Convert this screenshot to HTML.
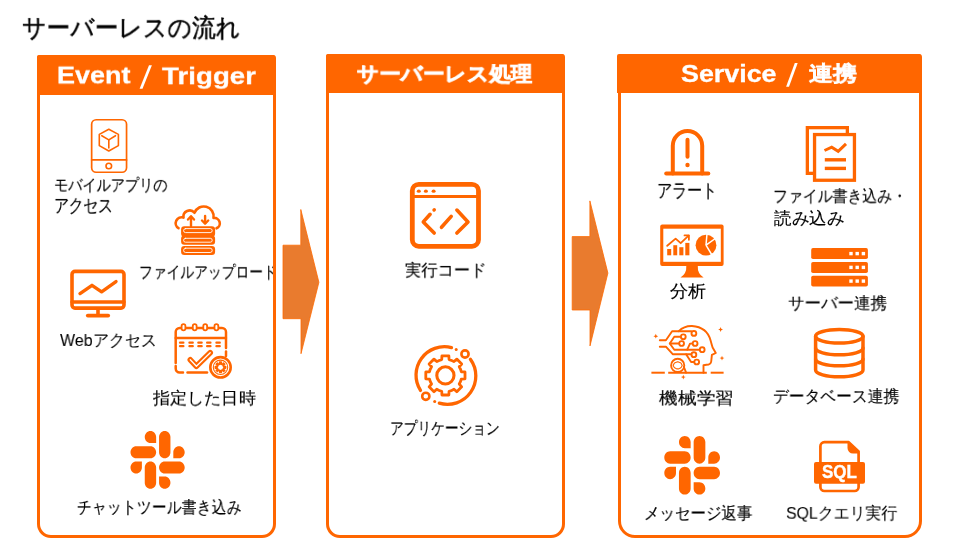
<!DOCTYPE html>
<html><head><meta charset="utf-8">
<style>
html,body{margin:0;padding:0;background:#fff;}
body{width:955px;height:553px;position:relative;overflow:hidden;font-family:"Liberation Sans",sans-serif;color:#111;}
.box{position:absolute;z-index:5;border:3px solid #FF6600;box-sizing:border-box;border-radius:3px 3px 14px 14px;}
.hdr{position:absolute;background:#FF6600;border-radius:2px 2px 0 0;}
.t{position:absolute;white-space:nowrap;line-height:1;transform-origin:0 0;-webkit-text-stroke:0.15px #000;color:#000;will-change:transform;}
#title{-webkit-text-stroke:0.5px #000;}
#h2{-webkit-text-stroke:0.8px #fff;}
#h3c{-webkit-text-stroke:0.5px #fff;}
#l4,#l17{-webkit-text-stroke:0.05px #000;}
#h1a,#h1c,#h3a{-webkit-text-stroke:0.3px #fff;}
.h{position:absolute;white-space:nowrap;line-height:1;color:#fff;font-weight:bold;transform-origin:0 0;will-change:transform;}
svg{position:absolute;overflow:visible;}
</style></head><body>

<div class="box" style="left:37px;top:55px;width:239px;height:483px;"></div>
<div class="hdr" style="left:37px;top:55px;width:238px;height:40px;"></div>
<div class="box" style="left:326px;top:54px;width:239px;height:484px;"></div>
<div class="hdr" style="left:326px;top:54px;width:238px;height:38.5px;"></div>
<div class="box" style="left:618px;top:54px;width:304px;height:484px;border-radius:3px 3px 17px 17px;"></div>
<div class="hdr" style="left:617px;top:54px;width:304px;height:38.6px;"></div>


<svg style="left:0;top:0" width="955" height="553">
<polygon points="283,245.2 300.8,245.2 300.8,209.5 318.9,282.3 301,353.7 301,318.7 283,318.7" fill="#E97B2E" stroke="#FF6A00" stroke-width="0.8"/>
<polygon points="572.2,236.6 589.9,236.6 589.9,200.9 607.9,273.1 590,345.9 590,310 572.2,310" fill="#E97B2E" stroke="#FF6A00" stroke-width="0.8"/>
</svg>

<!--ICONS-->
<svg style="left:0;top:0;z-index:3" width="955" height="553" viewBox="0 0 955 553">
<defs>
<path id="slk" d="M26.4 78.2c0 7.1-5.8 12.9-12.9 12.9S.6 85.3.6 78.2c0-7.1 5.8-12.9 12.9-12.9h12.9v12.9zm6.5 0c0-7.1 5.8-12.9 12.9-12.9s12.9 5.8 12.9 12.9v32.3c0 7.1-5.8 12.9-12.9 12.9s-12.9-5.8-12.9-12.9V78.2zM45.8 26.4c-7.1 0-12.9-5.8-12.9-12.9S38.7.6 45.8.6s12.9 5.8 12.9 12.9v12.9H45.8zm0 6.5c7.1 0 12.9 5.8 12.9 12.9s-5.8 12.9-12.9 12.9H13.5C6.4 58.7.6 52.9.6 45.8s5.8-12.9 12.9-12.9h32.3zM97.6 45.8c0-7.1 5.8-12.9 12.9-12.9s12.9 5.8 12.9 12.9-5.8 12.9-12.9 12.9H97.6V45.8zm-6.5 0c0 7.1-5.8 12.9-12.9 12.9s-12.9-5.8-12.9-12.9V13.5C65.3 6.4 71.1.6 78.2.6s12.9 5.8 12.9 12.9v32.3zM78.2 97.6c7.1 0 12.9 5.8 12.9 12.9s-5.8 12.9-12.9 12.9-12.9-5.8-12.9-12.9V97.6h12.9zm0-6.5c-7.1 0-12.9-5.8-12.9-12.9s5.8-12.9 12.9-12.9h32.3c7.1 0 12.9 5.8 12.9 12.9s-5.8 12.9-12.9 12.9H78.2z"/>
</defs>
<g fill="none" stroke="#FF6600" stroke-linecap="round" stroke-linejoin="round">
<!-- phone -->
<rect x="91.65" y="119.75" width="34.9" height="52.5" rx="4.5" stroke-width="1.7"/>
<line x1="91.65" y1="159.9" x2="126.55" y2="159.9" stroke-width="1.7"/>
<circle cx="108.8" cy="166" r="2.8" stroke-width="1.6"/>
<polygon points="108.8,129.3 118.4,134.4 118.4,145.6 108.8,151 99.3,145.6 99.3,134.4" stroke-width="1.6"/>
<polyline points="101.8,135.7 108.8,139.9 115.5,135.7" stroke-width="1.6"/>
<line x1="108.8" y1="139.9" x2="108.8" y2="148" stroke-width="1.6"/>

<!-- cloud -->
<path d="M178.5,228.2 A5.9,5.9 0 0 1 183.5,217.6 A6.2,6.2 0 0 1 194.5,212.8 A9.9,9.9 0 0 1 213.5,218 A5.4,5.4 0 0 1 216.5,228.3" stroke-width="2.6"/>
<line x1="191" y1="217" x2="191" y2="226" stroke-width="2.4"/>
<polyline points="188,219.5 191,216.2 194,219.5" stroke-width="2.4"/>
<line x1="205.1" y1="216" x2="205.1" y2="223" stroke-width="2.4"/>
<polyline points="202,220.5 205.1,223.6 208.2,220.5" stroke-width="2.4"/>


<g fill="#FF6600" stroke="none">
<rect x="181.1" y="226.2" width="34" height="10.5" rx="3.2"/>
<rect x="181.1" y="235.5" width="34" height="9.3" rx="3.2"/>
<rect x="181.1" y="246.1" width="34" height="8.8" rx="3.2"/>
</g>
<g stroke="#fff" stroke-width="0.9">
<rect x="183.6" y="228.6" width="28.6" height="4" rx="2"/>
<rect x="183.6" y="238.3" width="28.6" height="3.9" rx="1.9"/>
<rect x="183.6" y="248.2" width="28.6" height="4.3" rx="2.1"/>
</g>
<circle cx="209.3" cy="230.6" r="1.2" fill="#FF6600" stroke="none"/>
<!-- monitor -->
<rect x="72" y="271.4" width="52" height="36.7" rx="3" stroke-width="3.6"/>
<line x1="72" y1="302" x2="124" y2="302" stroke-width="3.4"/>
<line x1="98" y1="309" x2="98" y2="314" stroke-width="3.6" stroke-linecap="butt"/>
<line x1="87.8" y1="315.6" x2="108.2" y2="315.6" stroke-width="3.8"/>
<polyline points="80,293.6 92,285.3 101.6,291.8 116,281.6" stroke-width="3.4"/>

<!-- calendar -->
<path d="M175.7,363 V332 a4,4 0 0 1 4,-4 H222 a4,4 0 0 1 4,4 V348" stroke-width="2.5"/>
<path d="M175.7,366 V368.5 a4,4 0 0 0 4,4 H183" stroke-width="2.5"/>
<path d="M187.5,372.5 H207" stroke-width="2.5"/>
<line x1="226" y1="351.5" x2="226" y2="356" stroke-width="2.5"/>
<line x1="175.7" y1="338" x2="226" y2="338" stroke-width="2.4"/>
<g stroke-width="2.2">
<line x1="180" y1="342.7" x2="183.4" y2="342.7"/><line x1="189.4" y1="342.7" x2="192.8" y2="342.7"/><line x1="198.3" y1="342.7" x2="201.7" y2="342.7"/><line x1="207.1" y1="342.7" x2="210.5" y2="342.7"/><line x1="216.4" y1="342.7" x2="219.8" y2="342.7"/>
<line x1="180" y1="346.2" x2="183.4" y2="346.2"/><line x1="189.4" y1="346.2" x2="192.8" y2="346.2"/><line x1="198.3" y1="346.2" x2="201.7" y2="346.2"/><line x1="207.1" y1="346.2" x2="210.5" y2="346.2"/><line x1="216.4" y1="346.2" x2="219.8" y2="346.2"/>
</g>
<g stroke-width="1.8" fill="#fff">
<rect x="181.6" y="324.2" width="3.8" height="6.2" rx="1.9"/>
<rect x="192.8" y="324.2" width="3.8" height="6.2" rx="1.9"/>
<rect x="203.3" y="324.2" width="3.8" height="6.2" rx="1.9"/>
<rect x="214.5" y="324.2" width="3.8" height="6.2" rx="1.9"/>
</g>
<polyline points="190.3,359.8 196.4,366.3 210.2,352.8" stroke-width="5.6"/>
<polyline points="190.3,359.8 196.4,366.3 210.2,352.8" stroke="#fff" stroke-width="1.3"/>
<circle cx="220.5" cy="367.3" r="10.2" fill="#fff" stroke-width="2.6"/>
<circle cx="220.5" cy="367.3" r="7.2" stroke-width="1.1"/>
<path d="M219.78,364.18 L219.69,362.16 L221.31,362.16 L221.22,364.18 L222.20,364.59 L223.56,363.09 L224.71,364.24 L223.21,365.60 L223.62,366.58 L225.64,366.49 L225.64,368.11 L223.62,368.02 L223.21,369.00 L224.71,370.36 L223.56,371.51 L222.20,370.01 L221.22,370.42 L221.31,372.44 L219.69,372.44 L219.78,370.42 L218.80,370.01 L217.44,371.51 L216.29,370.36 L217.79,369.00 L217.38,368.02 L215.36,368.11 L215.36,366.49 L217.38,366.58 L217.79,365.60 L216.29,364.24 L217.44,363.09 L218.80,364.59 Z" stroke-width="1.6"/>

<!-- code window -->
<rect x="412.3" y="184.3" width="66.2" height="62" rx="6.5" stroke-width="4.8"/>
<line x1="412.3" y1="196.5" x2="478.5" y2="196.5" stroke-width="3"/>
<g fill="#FF6600" stroke="none"><ellipse cx="418.8" cy="191.2" rx="2" ry="1.6"/><ellipse cx="425.9" cy="191.2" rx="2" ry="1.6"/><ellipse cx="433.6" cy="191.2" rx="2" ry="1.6"/></g>
<polyline points="430.1,214.3 423.3,221.9 434.2,233" stroke-width="3.6"/>
<line x1="434" y1="210" x2="434.3" y2="209.7" stroke-width="3.4"/>
<polyline points="456.9,210.1 468,221.9 456.9,233" stroke-width="3.6"/>
<line x1="441.5" y1="227.3" x2="451.2" y2="216.4" stroke-width="3.6"/>

<!-- gear orbit -->
<path d="M451.5,347.6 A28.4,28.4 0 0 0 420.5,390.4" stroke-width="3.3"/>
<path d="M470.4,359.3 A28.4,28.4 0 0 1 439.3,403.2" stroke-width="3.3"/>
<circle cx="456.2" cy="349.6" r="1.5" fill="#FF6600" stroke="none"/>
<circle cx="434.7" cy="401.6" r="1.5" fill="#FF6600" stroke="none"/>
<circle cx="465" cy="354" r="3.6" stroke-width="2.6"/>
<circle cx="425.8" cy="396.3" r="3.6" stroke-width="2.6"/>
<circle cx="445.4" cy="375.4" r="8.6" stroke-width="3.1"/>
<path d="M441.73,359.52 L441.94,355.80 L448.86,355.80 L449.07,359.52 A16.3,16.3 0 0 1 454.04,361.58 L456.81,359.10 L461.70,363.99 L459.22,366.76 A16.3,16.3 0 0 1 461.28,371.73 L465.00,371.94 L465.00,378.86 L461.28,379.07 A16.3,16.3 0 0 1 459.22,384.04 L461.70,386.81 L456.81,391.70 L454.04,389.22 A16.3,16.3 0 0 1 449.07,391.28 L448.86,395.00 L441.94,395.00 L441.73,391.28 A16.3,16.3 0 0 1 436.76,389.22 L433.99,391.70 L429.10,386.81 L431.58,384.04 A16.3,16.3 0 0 1 429.52,379.07 L425.80,378.86 L425.80,371.94 L429.52,371.73 A16.3,16.3 0 0 1 431.58,366.76 L429.10,363.99 L433.99,359.10 L436.76,361.58 A16.3,16.3 0 0 1 441.73,359.52 Z" stroke-width="2.8"/>

<!-- alert -->
<path d="M672.8,173.6 V145.8 A14.7,14.7 0 0 1 702.2,145.8 V173.6" stroke-width="4"/>
<line x1="666.2" y1="173.6" x2="708.3" y2="173.6" stroke-width="4"/>
<line x1="687.5" y1="139.7" x2="687.5" y2="156.7" stroke-width="4"/>
<circle cx="687.5" cy="165" r="2.2" fill="#FF6600" stroke="none"/>


<!-- ML head -->
<g stroke-width="1.9">
<path d="M678.8,331.2 Q684,325.8 692,326 Q707,327 710.6,340.5 Q711.8,345 712.6,347.5 L715.8,353 L711.9,354.9 L711.2,361.5 Q710.8,364.8 706.5,364.8 L703.5,365.2 V372.7"/>
<polyline points="659.8,340.2 665.9,340.2 672.1,331.2 691.2,331.2"/>
<polyline points="659.8,346.7 665.9,346.7 672.7,354.2 691.3,354.2"/>
<polyline points="680.9,336.8 674.3,336.8 669.8,343.5 674.3,349.7 699.5,349.7"/>
<line x1="669.8" y1="343.5" x2="679.2" y2="343.5"/>
<polyline points="692.6,343.5 690,343.6 687.2,349.7"/>
<polyline points="686.1,354.2 691.1,362 694.2,362"/>
<g fill="#fff">
<circle cx="693.9" cy="333.4" r="2.4"/>
<circle cx="683.3" cy="336.8" r="2.4"/>
<circle cx="681.6" cy="343.5" r="2.4"/>
<circle cx="695.1" cy="343.5" r="2.4"/>
<circle cx="702.2" cy="349.7" r="2.4"/>
<circle cx="693.9" cy="354.7" r="2.4"/>
<circle cx="696.7" cy="362" r="2.4"/>
</g>
<circle cx="677.7" cy="365.4" r="6.6" fill="#fff"/>
<path d="M683.9,367 L686.1,372.7"/>
<g stroke-linecap="butt" stroke-width="2">
<line x1="651.4" y1="372.7" x2="664.8" y2="372.7"/>
<line x1="668.2" y1="372.7" x2="706.8" y2="372.7"/>
<line x1="710.7" y1="372.7" x2="723.6" y2="372.7"/>
</g>
</g>
<path d="M677.00,361.9 L678.4,361.9 L680.4,362.7 L681.4,363.7 L682.2,365.4 L681.4,367.1 L680.4,368.1 L678.4,368.9 L677,368.9 L675,368.1 L674,367.1 L673.2,365.4 L674,363.7 L675,362.7 Z" stroke-width="1.1"/>
<g fill="#FF6600" stroke="none">
<path d="M655.8,333.8 L656.5,335.5 L658.2,336.2 L656.5,336.9 L655.8,338.6 L655.1,336.9 L653.4,336.2 L655.1,335.5 Z"/>
<path d="M720.6,327.1 L721.3,328.8 L723,329.5 L721.3,330.2 L720.6,331.9 L719.9,330.2 L718.2,329.5 L719.9,328.8 Z"/>
<path d="M722,355.7 L722.7,357.4 L724.4,358.1 L722.7,358.8 L722,360.5 L721.3,358.8 L719.6,358.1 L721.3,357.4 Z"/>
<path d="M683.3,374.7 L684,376.4 L685.7,377.1 L684,377.8 L683.3,379.5 L682.6,377.8 L680.9,377.1 L682.6,376.4 Z"/>
</g>

<!-- docs -->
<g stroke-linecap="butt" stroke-linejoin="miter">
<rect x="807.35" y="127.65" width="40" height="45.7" stroke-width="3.3"/>
<rect x="814.55" y="134.55" width="39.9" height="45.7" fill="#fff" stroke-width="3.3"/>
<polyline points="824.5,150.5 831.7,147.2 838.2,151.3 846,143.9" stroke-width="3"/>
<line x1="824.8" y1="159.8" x2="846" y2="159.8" stroke-width="3.4"/>
<line x1="824.8" y1="168.4" x2="846" y2="168.4" stroke-width="3.4"/>
</g>

<!-- analytics monitor -->
<g stroke-linecap="butt" stroke-linejoin="miter">
<rect x="660.2" y="224.4" width="63.4" height="41.7" rx="2" fill="#FF6600" stroke="none"/><rect x="663.3" y="228.7" width="57.5" height="33.1" fill="#fff" stroke="none"/>
</g>
<g fill="#FF6600" stroke="none">
<path d="M686.3,266 H697.8 Q697.3,273.5 703.6,277.6 H680.5 Q686.8,273.5 686.3,266 Z"/>
<rect x="667.2" y="249" width="4" height="6.3"/>
<rect x="673.3" y="245.2" width="3.9" height="10.1"/>
<rect x="679.3" y="247.2" width="4.1" height="8.1"/>
<rect x="685.3" y="242.9" width="4.1" height="12.4"/>
</g>
<polyline points="667.2,245.8 675.6,238.6 680.7,243.2 688.6,235.6" stroke-width="1.8"/>
<polyline points="684.5,235.4 688.9,235.4 688.9,239.8" stroke-width="1.8"/>


<circle cx="706" cy="245.2" r="10.4" fill="#FF6600" stroke="none"/>
<g stroke="#fff" stroke-width="1.5" stroke-linecap="butt">
<line x1="706" y1="245.2" x2="707" y2="233.5"/>
<line x1="706" y1="245.2" x2="716" y2="238"/>
<line x1="706" y1="245.2" x2="712.5" y2="256"/>
</g>

<!-- server rack -->
<g fill="#FF6600" stroke="none">
<rect x="811.2" y="248.1" width="56.7" height="11" rx="1.8"/>
<rect x="811.2" y="261.9" width="56.7" height="11.1" rx="1.8"/>
<rect x="811.2" y="275.7" width="56.7" height="10.8" rx="1.8"/>
</g>
<g fill="#fff" stroke="none">
<rect x="849.3" y="251.9" width="3.4" height="3.4"/><rect x="855.5" y="251.9" width="3.4" height="3.4"/><rect x="861.7" y="251.9" width="3.4" height="3.4"/>
<rect x="849.3" y="265.7" width="3.4" height="3.4"/><rect x="855.5" y="265.7" width="3.4" height="3.4"/><rect x="861.7" y="265.7" width="3.4" height="3.4"/>
<rect x="849.3" y="279.4" width="3.4" height="3.4"/><rect x="855.5" y="279.4" width="3.4" height="3.4"/><rect x="861.7" y="279.4" width="3.4" height="3.4"/>
</g>

<!-- database -->
<g stroke-width="3.5">
<ellipse cx="839.3" cy="336.3" rx="23.7" ry="6.8"/>
<path d="M815.6,336.3 V370 A23.7,6.8 0 0 0 863,370 V336.3"/>
<path d="M815.6,348 A23.7,6.8 0 0 0 863,348"/>
<path d="M815.6,359 A23.7,6.8 0 0 0 863,359"/>
</g>

<!-- sql file -->
<path d="M848.7,442.2 H824.4 a4,4 0 0 0 -4,4 V487 a4,4 0 0 0 4,4 H854.6 a4,4 0 0 0 4,-4 V451.5 Z" stroke-width="2.7"/>
<path d="M847.5,442 V448 a5.5,5.5 0 0 0 5.5,5.5 H859.5 Z" fill="#FF6600" stroke="none"/>
<rect x="814" y="462" width="51" height="21.8" rx="2" fill="#FF6600" stroke="none"/>
</g>

<text x="822" y="477.8" font-family="Liberation Sans" font-weight="bold" font-size="18" fill="#fff" stroke="#fff" stroke-width="0.4" textLength="34.9" lengthAdjust="spacingAndGlyphs">SQL</text>
<g fill="#fff" stroke="none"><polygon points="149.0,65.3 151.9,65.3 142.5,88.7 139.6,88.7"/><polygon points="794.8,63 797.7,63 789.0,86.7 786.1,86.7"/></g>
<!-- slack -->
<g fill="#FF6600">
<svg x="130.5" y="431" width="54.2" height="57.7" viewBox="0.6 0.6 122.8 122.8" preserveAspectRatio="none"><use href="#slk"/></svg>
<svg x="664.3" y="435.9" width="55.7" height="58.7" viewBox="0.6 0.6 122.8 122.8" preserveAspectRatio="none"><use href="#slk"/></svg>
</g>
</svg>
<!--/ICONS-->
<!--LABELS-->
<div class="t" id="title" style="left:21.60px;top:15.40px;font-size:26px;transform:scale(0.9096,0.9692);">サーバーレスの流れ</div>
<div class="h" id="h1a" style="left:57.06px;top:63.43px;font-size:26px;transform:scale(1.0386,0.9250);">Event</div>
<div class="h" id="h1c" style="left:162.10px;top:64.18px;font-size:26px;transform:scale(1.0659,0.9115);">Trigger</div>
<div class="h" id="h2" style="left:357.40px;top:63.53px;font-size:22px;transform:scale(0.9733,0.9304);">サーバーレス処理</div>
<div class="h" id="h3a" style="left:680.80px;top:62.20px;font-size:24px;transform:scale(1.1188,1.0000);">Service</div>
<div class="h" id="h3c" style="left:809.20px;top:63.08px;font-size:24px;transform:scale(0.9959,0.8760);">連携</div>
<div class="t" id="l1" style="left:54.17px;top:177.22px;font-size:17px;transform:scale(0.8341,0.9700);">モバイルアプリの</div>
<div class="t" id="l2" style="left:54.14px;top:196.91px;font-size:17px;transform:scale(0.8615,1.0933);">アクセス</div>
<div class="t" id="l3" style="left:138.79px;top:263.74px;font-size:17px;transform:scale(0.8108,0.9700);">ファイルアップロード</div>
<div class="t" id="l4" style="left:60.00px;top:332.00px;font-size:17px;transform:scale(0.9406,1.0000);">Webアクセス</div>
<div class="t" id="l5" style="left:153.00px;top:389.74px;font-size:17px;transform:scale(1.0059,0.9700);">指定した日時</div>
<div class="t" id="l6" style="left:77.12px;top:499.00px;font-size:17px;transform:scale(0.8811,1.0235);">チャットツール書き込み</div>
<div class="t" id="l7" style="left:404.60px;top:262.40px;font-size:17px;transform:scale(0.9566,0.9765);">実行コード</div>
<div class="t" id="l8" style="left:389.59px;top:420.00px;font-size:17px;transform:scale(0.8060,1.0000);">アプリケーション</div>
<div class="t" id="l9" style="left:656.72px;top:181.91px;font-size:17px;transform:scale(0.8794,1.0933);">アラート</div>
<div class="t" id="l10" style="left:773.12px;top:188.16px;font-size:17px;transform:scale(0.8759,0.9700);">ファイル書き込み・</div>
<div class="t" id="l11" style="left:774.00px;top:209.60px;font-size:17px;transform:scale(1.0299,1.0000);">読み込み</div>
<div class="t" id="l12" style="left:670.00px;top:283.00px;font-size:17px;transform:scale(1.0882,1.0250);">分析</div>
<div class="t" id="l13" style="left:788.00px;top:295.40px;font-size:17px;transform:scale(0.9706,0.9765);">サーバー連携</div>
<div class="t" id="l14" style="left:659.00px;top:390.40px;font-size:17px;transform:scale(1.1045,0.9765);">機械学習</div>
<div class="t" id="l15" style="left:772.67px;top:388.40px;font-size:17px;transform:scale(0.9289,1.0118);">データベース連携</div>
<div class="t" id="l16" style="left:644.09px;top:505.00px;font-size:17px;transform:scale(0.9111,1.0000);">メッセージ返事</div>
<div class="t" id="l17" style="left:786.40px;top:505.40px;font-size:17px;transform:scale(0.9345,0.9765);">SQLクエリ実行</div>
<!--/LABELS-->
</body></html>
